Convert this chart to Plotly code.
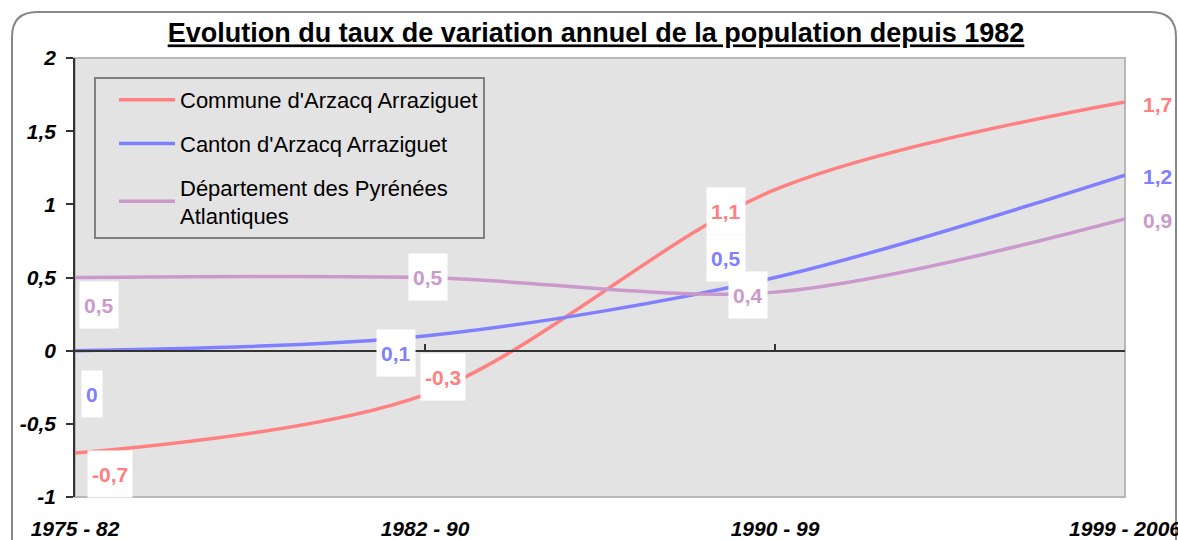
import plotly.graph_objects as go

# ---- data ----
categories = ["1975 - 82", "1982 - 90", "1990 - 99", "1999 - 2006"]
series_names = ["Commune d'Arzacq Arraziguet", "Canton d'Arzacq Arraziguet",
                "Département des Pyrénées<br>Atlantiques"]
commune = [-0.7, -0.3, 1.1, 1.7]
canton = [0.0, 0.1, 0.5, 1.2]
departement = [0.5, 0.5, 0.4, 0.9]
y_tick_vals = [-1, -0.5, 0, 0.5, 1, 1.5, 2]
y_tick_text = ["-1", "-0,5", "0", "0,5", "1", "1,5", "2"]

# ---- styles ----
colors = ["#FF8080", "#8080FF", "#CC99CC"]
# label pixel offsets (dx, dy) relative to each point
label_offsets = [
    [(35, -21), (18, 18), (-49, -21), (32, -2)],
    [(17, -43), (-29, -17), (-49, 20), (32, -1)],
    [(24, -27), (3, 1), (-27, -3), (32, -1)],
]
W, H = 1178, 540
ML, MT = 75, 58
PW, PH = 1050, 439
MR, MB = W - ML - PW, H - MT - PH
FONT = "Liberation Sans, Arial, Helvetica, sans-serif"
PLOT_BG = "#E3E3E3"


def px2x(px):
    return (px - ML) / PW


def px2y(py):
    return 1 - (py - MT) / PH


def fmt(v):
    return ("%g" % v).replace(".", ",")


fig = go.Figure()
all_series = [commune, canton, departement]
xs = list(range(len(categories)))
for i, (name, vals) in enumerate(zip(series_names, all_series)):
    fig.add_trace(go.Scatter(
        x=xs, y=vals, mode="lines", name=name,
        line=dict(color=colors[i], width=3.5, shape="spline", smoothing=0.9),
        legendgroup=f"g{i}", hoverinfo="skip",
    ))
    for j, v in enumerate(vals):
        dx, dy = label_offsets[i][j]
        inside = j < len(vals) - 1
        fig.add_annotation(
            x=xs[j], y=v, xref="x", yref="y", text=fmt(v), showarrow=False,
            xshift=dx, yshift=dy,
            font=dict(family=FONT, size=21, color=colors[i], weight="bold"),
            bgcolor="white" if inside else "rgba(0,0,0,0)",
            borderpad=4, height=38,
        )

# dummy trace for the zero-crossing category axis
fig.add_trace(go.Scatter(x=[None], y=[None], xaxis="x2", showlegend=False,
                         hoverinfo="skip"))

# outer rounded border
x0, x1 = px2x(12), px2x(1176)
y0, y1 = px2y(12), px2y(580)
rx, ry = 25 / PW, 25 / PH
path = (f"M{x0},{y1} L{x0},{y0 - ry} Q{x0},{y0} {x0 + rx},{y0} "
        f"L{x1 - rx},{y0} Q{x1},{y0} {x1},{y0 - ry} L{x1},{y1}")
fig.add_shape(type="path", path=path, xref="paper", yref="paper",
              line=dict(color="#888888", width=2), layer="below")
# plot area border (top/right/bottom)
fig.add_shape(type="rect", xref="paper", yref="paper", x0=0, x1=1, y0=0, y1=1,
              line=dict(color="#B8B8B8", width=2), layer="below")

fig.update_layout(
    width=W, height=H,
    margin=dict(l=ML, r=MR, t=MT, b=MB, autoexpand=False),
    paper_bgcolor="white", plot_bgcolor=PLOT_BG,
    font=dict(family=FONT, color="black"),
    title=dict(
        text="<u>Evolution du taux de variation annuel de la population depuis 1982</u>",
        x=596 / W, xanchor="center", y=1 - 33 / H, yanchor="middle",
        font=dict(family=FONT, size=27, weight="bold", color="black"),
        automargin=False,
    ),
    xaxis=dict(range=[0, 3], tickvals=xs, ticktext=categories, automargin=False,
               showline=False, showgrid=False, zeroline=False,
               ticks="outside", ticklen=13, tickcolor="rgba(0,0,0,0)",
               ticklabeloverflow="allow",
               tickfont=dict(family=FONT, size=21, weight="bold", style="italic")),
    xaxis2=dict(range=[0, 3], overlaying="x", anchor="free", position=1 / 3,
                tickvals=xs, showticklabels=False, showline=True, automargin=False,
                linecolor="#333333", linewidth=1.5, ticks="inside", ticklen=6,
                tickcolor="#333333", tickwidth=1.5, showgrid=False, zeroline=False),
    yaxis=dict(range=[-1, 2], tickvals=y_tick_vals, ticktext=y_tick_text,
               automargin=False,
               showline=True, linecolor="#333333", linewidth=1.5,
               ticks="outside", ticklen=7, tickcolor="#333333", tickwidth=1.5,
               showgrid=False, zeroline=False, ticklabelstandoff=6,
               tickfont=dict(family=FONT, size=21, weight="bold", style="italic")),
    legend=dict(x=px2x(94), y=px2y(77), xanchor="left", yanchor="top",
                bgcolor=PLOT_BG, bordercolor="#808080", borderwidth=2,
                font=dict(family=FONT, size=22, color="black"),
                tracegroupgap=12, itemwidth=56, indentation=18),
    showlegend=True,
)

fig.write_html(
    "out.html",
    config={"displayModeBar": False},
    post_script="document.body.style.margin='0';document.body.style.overflow='hidden';",
)
